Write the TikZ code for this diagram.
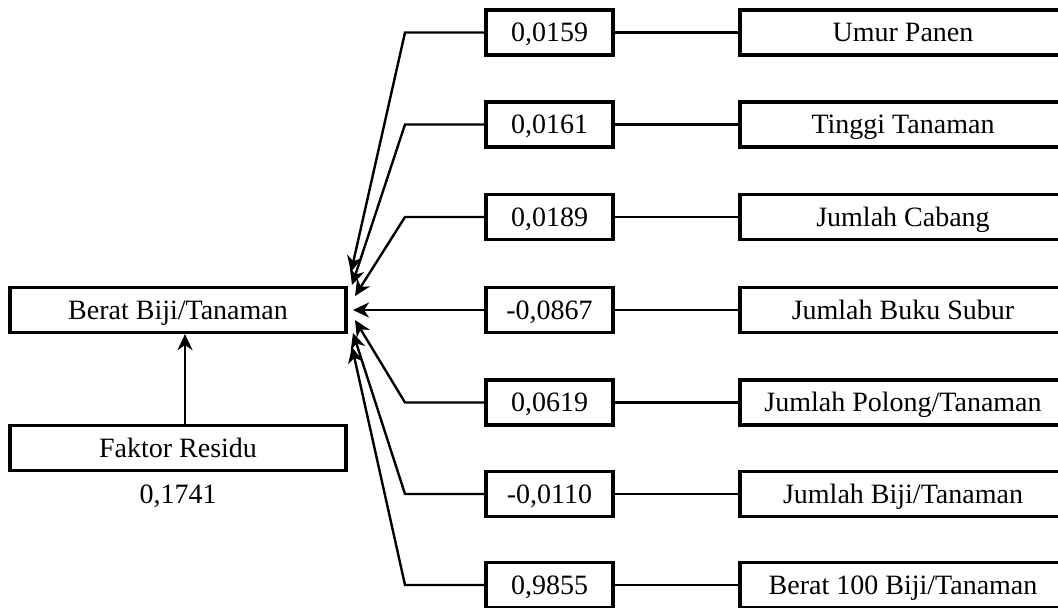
\documentclass[tikz,border=0pt]{standalone}
\usepackage{fontspec}
\setmainfont{Liberation Serif}
\usetikzlibrary{arrows.meta}
\begin{document}
\begin{tikzpicture}[x=1pt,y=-1pt,
  box/.style={draw, line width=3.2pt, minimum height=45pt, inner sep=0pt,
    text height=18.5pt, text depth=0pt,
    font=\fontsize{28}{32}\selectfont},
  leftbox/.style={box, minimum width=336pt},
  coefbox/.style={box, minimum width=127pt},
  varbox/.style={box, minimum width=326pt},
  conn/.style={line width=2.4pt},
  arr/.style={conn, -{Stealth[length=16pt,width=15pt,inset=5pt]}},
  lbl/.style={font=\fontsize{28}{32}\selectfont, inner sep=0pt}
]
\useasboundingbox (0,0) rectangle (1058,608);

\node[leftbox] (berat) at (178,310) {Berat Biji/Tanaman};
\node[leftbox] (res) at (178,448) {Faktor Residu};
\node[lbl] (resv) at (178,496) {0,1741};
\coordinate (vx) at (185,0);
\draw[arr] (res.north -| vx) -- (berat.south -| vx);

\foreach \i/\y/\c/\v/\tx/\ty in {
  1/32.5/{0,0159}/{Umur Panen}/351/272,
  2/124.5/{0,0161}/{Tinggi Tanaman}/352/285,
  3/217/{0,0189}/{Jumlah Cabang}/355/296,
  4/310/{-0,0867}/{Jumlah Buku Subur}/353/310,
  5/402.5/{0,0619}/{Jumlah Polong/Tanaman}/355/320,
  6/494/{-0,0110}/{Jumlah Biji/Tanaman}/353/333,
  7/585/{0,9855}/{Berat 100 Biji/Tanaman}/352/347}{
  \node[coefbox] (c\i) at (549.5,\y) {\c};
  \node[varbox] (r\i) at (903,\y) {\v};
  \coordinate (k\i) at (405,\y);
  \coordinate (t\i) at (\tx,\ty);
  \draw[conn] (c\i.east) -- (r\i.west);
  \draw[arr] (c\i.west) -- (k\i) -- (t\i);
}
\end{tikzpicture}
\end{document}
